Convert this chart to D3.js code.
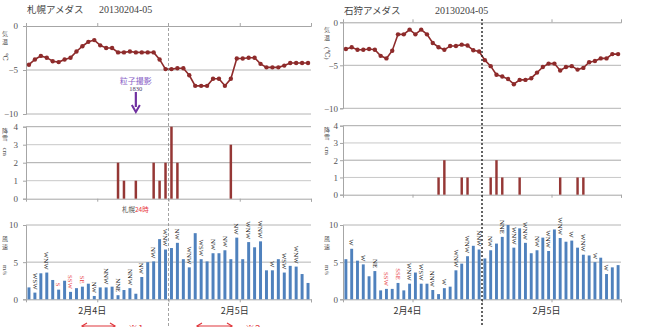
<!DOCTYPE html>
<html><head><meta charset="utf-8">
<script src="https://cdn.jsdelivr.net/npm/d3@7"></script>
<style>
body{margin:0;background:#fff;}
svg{display:block;}
</style></head>
<body>
<svg id="c" width="655" height="327"></svg>
<script>
// ---------------- DATA ----------------
const hours = d3.range(1, 49); // 2/4 1時 … 2/5 24時 (48 hourly categories)
const dayLabels = ["2月4日", "2月5日"];
const tempTicks = [0, -5, -10];
const snowTicks = [0, 1, 2, 3, 4];
const windTicks = [0, 5, 10];

// Sapporo
const sapporoTemp = [-4.4,-3.8,-3.4,-3.6,-4.0,-4.1,-3.8,-3.6,-2.9,-2.3,-1.8,-1.6,
  -2.2,-2.5,-2.5,-3.0,-3.0,-2.9,-3.0,-3.0,-3.0,-3.0,-3.8,-4.9,
  -4.9,-4.8,-4.8,-5.6,-6.8,-6.8,-6.8,-6.0,-6.0,-6.8,-6.0,-3.7,
  -3.7,-3.6,-3.6,-4.3,-4.7,-4.7,-4.7,-4.5,-4.2,-4.2,-4.2,-4.2];
const sapporoSnow = [0,0,0,0,0,0,0,0,0,0,0,0,0,0,0,2,1,0,1,0,0,2,1,2,
  4,2,0,0,0,0,0,0,0,0,3,0,0,0,0,0,0,0,0,0,0,0,0,0];
const sapporoWind = [1.6,0.9,3.5,3.6,2.6,1.3,2.5,1.0,1.5,1.7,2.1,0.45,
  1.6,1.6,1.7,0.55,1.25,1.5,0.75,3.0,5.0,5.1,8.1,6.7,
  6.9,7.6,5.4,4.3,8.9,5.4,5.1,6.2,6.2,6.6,5.4,8.3,
  5.4,7.7,7.0,7.8,3.9,3.9,5.4,3.6,4.5,4.4,3.4,2.2];
const sapporoDir = ["","WSW","","WNW","","S","","SSW","","SE","","NW",
  "","NNW","","NNE","","NNW","","NW","","NW","","WNW",
  "","NW","","WNW","","WSW","","NW","","NW","","NW",
  "","WNW","","WNW","","W","","WSW","","WNW","",""];

// Ishikari
const ishikariTemp = [-3.1,-2.9,-3.2,-3.2,-3.1,-3.2,-3.9,-4.2,-3.3,-1.4,-1.4,-0.85,
  -1.4,-0.85,-1.4,-2.4,-2.9,-3.2,-2.75,-2.75,-2.6,-2.7,-3.25,-3.4,
  -4.4,-5.1,-6.1,-6.3,-6.6,-7.2,-6.7,-6.7,-6.5,-5.85,-5.2,-4.8,
  -4.8,-5.6,-5.2,-5.1,-5.5,-5.3,-4.65,-4.5,-4.2,-4.2,-3.7,-3.7];
const ishikariSnow = [0,0,0,0,0,0,0,0,0,0,0,0,0,0,0,0,1,2,0,0,1,1,0,0,
  0,1,2,1,0,0,1,0,0,0,0,0,0,1,0,0,1,1,0,0,0,0,0,0];
const ishikariWind = [5.4,6.8,5.2,4.7,3.1,3.8,1.2,1.4,1.4,2.2,1.2,2.1,
  3.6,2.1,2.1,1.25,0.7,1.5,1.7,3.9,4.8,5.8,7.2,6.7,
  5.5,6.6,7.5,8.4,10.0,6.95,9.55,7.6,6.2,6.6,8.3,6.5,
  9.4,8.25,7.75,7.9,6.95,6.0,5.9,5.0,5.6,3.4,4.3,4.6];
const ishikariDir = ["","W","","W","","NE","","SSW","","SSE","","WNW",
  "","WSW","","NNW","","W","","WNW","","WNW","","NNW",
  "","NW","","NNE","","WNW","","WNW","","NW","","WNW",
  "","WNW","","W","","WNW","","W","","W","",""];

// ---------------- DRAW ----------------
const svg = d3.select("#c");
const SERIF = "'Liberation Serif','DejaVu Serif',serif";
const JP = "'Noto Sans CJK JP','Noto Sans',sans-serif";
const RED_LINE = "#8e2b2b", SNOW_C = "#953735", WIND_C = "#4f81bd";
const GRID = "#b4b4b4", AXIS = "#a6a6a6";

function panel(cfg) {
  const g = svg.append("g");
  const x = d3.scaleBand().domain(hours).range([cfg.x0, cfg.x1]);
  const xq = d3.scaleLinear().domain([0, 48]).range([cfg.x0, cfg.x1]);
  const quarters = [12, 24, 36, 48];

  // ---- temperature ----
  const yT = d3.scaleLinear().domain([-10, 0]).range(cfg.tempY);
  g.append("g").selectAll("line").data(tempTicks.filter(t => t !== 0)).join("line")
    .attr("x1", cfg.x0).attr("x2", cfg.x1).attr("y1", d => yT(d)).attr("y2", d => yT(d))
    .attr("stroke", GRID).attr("stroke-width", 1);
  const aTx = g.append("g").attr("transform", `translate(0,${yT(0)})`)
    .call(d3.axisTop(xq).tickValues([12, 36]).tickSize(3).tickFormat(""));
  aTx.select(".domain").attr("stroke", AXIS);
  aTx.selectAll(".tick line").attr("stroke", AXIS);
  const aTy = g.append("g").attr("transform", `translate(${cfg.x0},0)`)
    .call(d3.axisLeft(yT).tickValues(tempTicks).tickSize(3).tickPadding(cfg.tickPad).tickFormat(d3.format("d")));
  aTy.select(".domain").attr("stroke", AXIS);
  aTy.selectAll(".tick line").attr("stroke", AXIS);
  aTy.selectAll("text").attr("font-family", SERIF).attr("font-size", 9).attr("fill", "#555");

  const line = d3.line().x((d, i) => x(hours[i]) + x.bandwidth() / 2).y(d => yT(d));
  g.append("path").datum(cfg.temp).attr("d", line).attr("fill", "none")
    .attr("stroke", RED_LINE).attr("stroke-width", 1.6);
  g.append("g").selectAll("circle").data(cfg.temp).join("circle")
    .attr("cx", (d, i) => x(hours[i]) + x.bandwidth() / 2).attr("cy", d => yT(d))
    .attr("r", 2.2).attr("fill", RED_LINE);

  // ---- snow ----
  const yS = d3.scaleLinear().domain([0, 4]).range(cfg.snowY);
  g.append("g").selectAll("line").data(snowTicks.filter(t => t !== 0)).join("line")
    .attr("x1", cfg.x0).attr("x2", cfg.x1).attr("y1", d => yS(d)).attr("y2", d => yS(d))
    .attr("stroke", d => (d % 2 === 0 ? "#a8a8a8" : "#c8c8c8")).attr("stroke-width", 1);
  const aSx = g.append("g").attr("transform", `translate(0,${yS(0)})`)
    .call(d3.axisBottom(xq).tickValues(quarters).tickSize(3).tickFormat(""));
  aSx.select(".domain").attr("stroke", AXIS);
  aSx.selectAll(".tick line").attr("stroke", AXIS);
  const aSy = g.append("g").attr("transform", `translate(${cfg.x0},0)`)
    .call(d3.axisLeft(yS).tickValues(snowTicks).tickSize(3).tickPadding(cfg.tickPad).tickFormat(d3.format("d")));
  aSy.select(".domain").attr("stroke", AXIS);
  aSy.selectAll(".tick line").attr("stroke", AXIS);
  aSy.selectAll("text").attr("font-family", SERIF).attr("font-size", 9).attr("fill", "#555");
  const bwS = x.bandwidth() * 0.42;
  g.append("g").selectAll("rect").data(cfg.snow.map((v, i) => ({v, i})).filter(d => d.v > 0)).join("rect")
    .attr("x", d => x(hours[d.i]) + (x.bandwidth() - bwS) / 2).attr("width", bwS)
    .attr("y", d => yS(d.v)).attr("height", d => yS(0) - yS(d.v)).attr("fill", SNOW_C);

  // ---- wind ----
  const yW = d3.scaleLinear().domain([0, 10]).range(cfg.windY);
  g.append("g").selectAll("line").data(windTicks.filter(t => t !== 0)).join("line")
    .attr("x1", cfg.x0).attr("x2", cfg.x1).attr("y1", d => yW(d)).attr("y2", d => yW(d))
    .attr("stroke", GRID).attr("stroke-width", 1);
  const aWx = g.append("g").attr("transform", `translate(0,${yW(0)})`)
    .call(d3.axisBottom(xq).tickValues(quarters).tickSize(3).tickFormat(""));
  aWx.select(".domain").attr("stroke", AXIS);
  aWx.selectAll(".tick line").attr("stroke", AXIS);
  const aWy = g.append("g").attr("transform", `translate(${cfg.x0},0)`)
    .call(d3.axisLeft(yW).tickValues(windTicks).tickSize(3).tickPadding(cfg.tickPad).tickFormat(d3.format("d")));
  aWy.select(".domain").attr("stroke", AXIS);
  aWy.selectAll(".tick line").attr("stroke", AXIS);
  aWy.selectAll("text").attr("font-family", SERIF).attr("font-size", 9).attr("fill", "#555");
  const bwW = x.bandwidth() * 0.5;
  g.append("g").selectAll("rect").data(cfg.wind).join("rect")
    .attr("x", (d, i) => x(hours[i]) + (x.bandwidth() - bwW) / 2).attr("width", bwW)
    .attr("y", d => yW(d)).attr("height", d => yW(0) - yW(d)).attr("fill", WIND_C);
  // direction labels (rotated)
  g.append("g").selectAll("text").data(cfg.dir.map((t, i) => ({t, i})).filter(d => d.t)).join("text")
    .attr("transform", d => `translate(${x(hours[d.i]) + x.bandwidth() / 2 - 2.3},${yW(cfg.wind[d.i]) - 3}) rotate(90)`)
    .attr("text-anchor", "end").attr("font-family", SERIF).attr("font-size", 6.8)
    .attr("fill", d => (d.t[0] === "S" ? "#e8383d" : "#222"))
    .text(d => d.t);

  // day labels
  g.append("g").selectAll("text").data(dayLabels).join("text")
    .attr("x", (d, i) => xq(12 + 24 * i) - 5).attr("y", 314)
    .attr("text-anchor", "middle").attr("font-family", JP).attr("font-size", 9).attr("fill", "#333")
    .text(d => d);

  // midnight divider
  g.append("line").attr("x1", xq(24)).attr("x2", xq(24)).attr("y1", cfg.divTop).attr("y2", 327)
    .attr("stroke", cfg.divColor).attr("stroke-width", cfg.divWidth).attr("stroke-dasharray", cfg.divDash);

  // titles
  const t = g.append("text").attr("x", cfg.x0 + 1).attr("y", cfg.titleY)
    .attr("font-family", JP).attr("font-size", 9.5).attr("fill", "#444");
  t.append("tspan").text(cfg.title);
  t.append("tspan").attr("x", cfg.dateX).attr("font-family", SERIF).attr("font-size", 10).text("20130204-05");

  // vertical axis titles
  const vt = (xx, yy, chars, unit, uy) => {
    chars.forEach((c, k) => g.append("text").attr("x", xx).attr("y", yy + k * 7.5)
      .attr("text-anchor", "middle").attr("font-family", JP).attr("font-size", 6).attr("fill", "#555").text(c));
    g.append("text").attr("transform", `translate(${xx - 2},${uy}) rotate(90)`)
      .attr("text-anchor", "middle").attr("font-family", SERIF).attr("font-size", 7).attr("fill", "#555").text(unit);
  };
  vt(cfg.labX, cfg.tempY[1] + 10, ["気", "温"], cfg.tempUnit, cfg.tempY[1] + 31);
  vt(cfg.labX, cfg.snowY[1] + 6, ["降", "雪"], "cm", cfg.snowY[1] + 25);
  vt(cfg.labX, cfg.windY[1] + 16, ["風", "速"], "m/s", cfg.windY[1] + 45);
  return {x, xq, yT, yS, yW};
}

const L = panel({x0: 26, x1: 311, tempY: [114, 26], snowY: [198.7, 126.7], windY: [299.3, 225],
  temp: sapporoTemp, snow: sapporoSnow, wind: sapporoWind, dir: sapporoDir,
  title: "札幌アメダス", dateX: 99, titleY: 13, tickPad: 5, labX: 5, tempUnit: "℃",
  divTop: 23, divColor: "#8c8c8c", divWidth: 0.8, divDash: "3,2"});
const R = panel({x0: 343, x1: 621, tempY: [108.3, 22.3], snowY: [194.7, 125.7], windY: [299.3, 225],
  temp: ishikariTemp, snow: ishikariSnow, wind: ishikariWind, dir: ishikariDir,
  title: "石狩アメダス", dateX: 435, titleY: 14, tickPad: 2, labX: 327, tempUnit: "(℃)",
  divTop: 19, divColor: "#222", divWidth: 1.4, divDash: "2,2"});

// Annotation: particle photo at 18:30 on Feb 4 (Sapporo)
const ann = svg.append("g");
const ax = L.xq(18.5);
ann.append("text").attr("x", ax).attr("y", 84).attr("text-anchor", "middle")
  .attr("font-family", JP).attr("font-size", 8).attr("fill", "#8a63c8").text("粒子撮影");
ann.append("text").attr("x", ax).attr("y", 90.5).attr("text-anchor", "middle")
  .attr("font-family", SERIF).attr("font-size", 6.5).attr("fill", "#4a3a6a").text("1830");
ann.append("line").attr("x1", ax).attr("x2", ax).attr("y1", 92).attr("y2", 107)
  .attr("stroke", "#7030a0").attr("stroke-width", 2.2);
ann.append("path").attr("d", `M${ax - 4},${105} L${ax},${112} L${ax + 4},${105}`)
  .attr("fill", "none").attr("stroke", "#7030a0").attr("stroke-width", 2);

// Snow note
const sn = svg.append("text").attr("x", 122).attr("y", 212).attr("font-family", JP).attr("font-size", 6.5);
sn.append("tspan").attr("fill", "#555").text("札幌");
sn.append("tspan").attr("fill", "#e8383d").text("24時");

// Bottom red arrows ※1 ※2 (cut off at the bottom edge as in the original)
const arr = [{a: 82, b: 115, tx: 128, t: "※1"}, {a: 197, b: 232, tx: 245, t: "※2"}];
arr.forEach(d => {
  const ga = svg.append("g").attr("stroke", "#e0363c").attr("fill", "none").attr("stroke-width", 1.2);
  ga.append("line").attr("x1", d.a).attr("x2", d.b).attr("y1", 326).attr("y2", 326);
  ga.append("path").attr("d", `M${d.a + 5},${323} L${d.a},${326} L${d.a + 5},${329}`);
  ga.append("path").attr("d", `M${d.b - 5},${323} L${d.b},${326} L${d.b - 5},${329}`);
  svg.append("text").attr("x", d.tx).attr("y", 333).attr("font-family", JP).attr("font-size", 10)
    .attr("fill", "#e0363c").text(d.t);
});
</script>
</body></html>
